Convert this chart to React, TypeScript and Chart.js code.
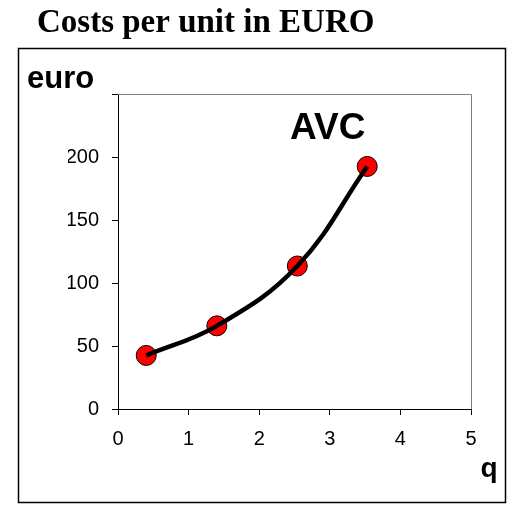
import React, { useEffect, useRef } from "react";
import { Chart, registerables } from "chart.js";

Chart.register(...registerables);

const qValues = [0.4, 1.4, 2.54, 3.53];
const avcValues = [42.5, 66, 113.5, 192.5];
const xTicks = [0, 1, 2, 3, 4, 5];
const yTicks = [0, 50, 100, 150, 200, 250];

const SANS = "'Liberation Sans', Arial, sans-serif";
const SERIF = "'Liberation Serif', 'Times New Roman', serif";

const framePlugin = {
  id: "frame",
  afterDraw(chart: Chart) {
    const { ctx, chartArea } = chart;
    ctx.save();
    // top + right border of the plot
    ctx.strokeStyle = "#7f7f7f";
    ctx.lineWidth = 1;
    ctx.beginPath();
    ctx.moveTo(chartArea.left, chartArea.top + 0.5);
    ctx.lineTo(chartArea.right + 0.5, chartArea.top + 0.5);
    ctx.lineTo(chartArea.right + 0.5, chartArea.bottom);
    ctx.stroke();

    // outer box
    ctx.strokeStyle = "#000";
    ctx.lineWidth = 1.5;
    ctx.strokeRect(18.5, 48.5, 487, 454);

    ctx.fillStyle = "#000";
    ctx.textBaseline = "alphabetic";
    ctx.textAlign = "left";
    ctx.font = `bold 33px ${SERIF}`;
    ctx.fillText("Costs per unit in EURO", 37, 32);

    ctx.font = `bold 31px ${SANS}`;
    ctx.fillText("euro", 27, 88);

    ctx.font = `bold 37px ${SANS}`;
    ctx.fillText("AVC", 290, 139);

    ctx.font = `bold 28px ${SANS}`;
    ctx.fillText("q", 480.5, 476.5);
    ctx.restore();
  },
};

const AvcChart: React.FC = () => {
  const canvasRef = useRef<HTMLCanvasElement | null>(null);

  useEffect(() => {
    if (!canvasRef.current) return;
    const ctx = canvasRef.current.getContext("2d");
    if (!ctx) return;

    const points = qValues.map((q, i) => ({ x: q, y: avcValues[i] }));

    const chart = new Chart(ctx, {
      type: "scatter",
      data: {
        datasets: [
          {
            label: "AVC curve",
            data: points,
            showLine: true,
            borderColor: "#000",
            borderWidth: 4.5,
            pointRadius: 0,
            tension: 0.4,
            order: 0,
          },
          {
            label: "AVC",
            data: points,
            showLine: false,
            pointRadius: 10,
            pointBackgroundColor: "#ff0000",
            pointBorderColor: "#000",
            pointBorderWidth: 1,
            order: 1,
          },
        ],
      },
      options: {
        responsive: true,
        maintainAspectRatio: false,
        animation: false,
        layout: { padding: { left: 68, right: 45, top: 94, bottom: 45 } },
        plugins: {
          legend: { display: false },
          tooltip: { enabled: false },
        },
        scales: {
          x: {
            type: "linear",
            min: xTicks[0],
            max: xTicks[xTicks.length - 1],
            afterBuildTicks: (s: any) => {
              s.ticks = xTicks.map((v) => ({ value: v }));
            },
            afterFit: (s: any) => {
              s.height = 60;
            },
            ticks: {
              color: "#000",
              font: { family: SANS, size: 20 },
              padding: 12,
            },
            grid: {
              drawOnChartArea: false,
              tickLength: 6,
              color: "#000",
            },
            border: { color: "#000", width: 1 },
          },
          y: {
            min: yTicks[0],
            max: yTicks[yTicks.length - 1],
            afterBuildTicks: (s: any) => {
              s.ticks = yTicks.map((v) => ({ value: v }));
            },
            afterFit: (s: any) => {
              s.width = 50;
            },
            ticks: {
              color: "#000",
              font: { family: SANS, size: 20 },
              padding: 13,
              callback: (v: any) => (v === 250 ? "" : String(v)),
            },
            grid: {
              drawOnChartArea: false,
              tickLength: 6,
              color: "#000",
            },
            border: { color: "#000", width: 1 },
          },
        },
      },
      plugins: [framePlugin],
    });

    return () => {
      chart.destroy();
    };
  }, []);

  return (
    <div style={{ position: "absolute", left: 0, top: 0, width: 516, height: 514 }}>
      <canvas ref={canvasRef} />
    </div>
  );
};

export default function App() {
  return <AvcChart />;
}
